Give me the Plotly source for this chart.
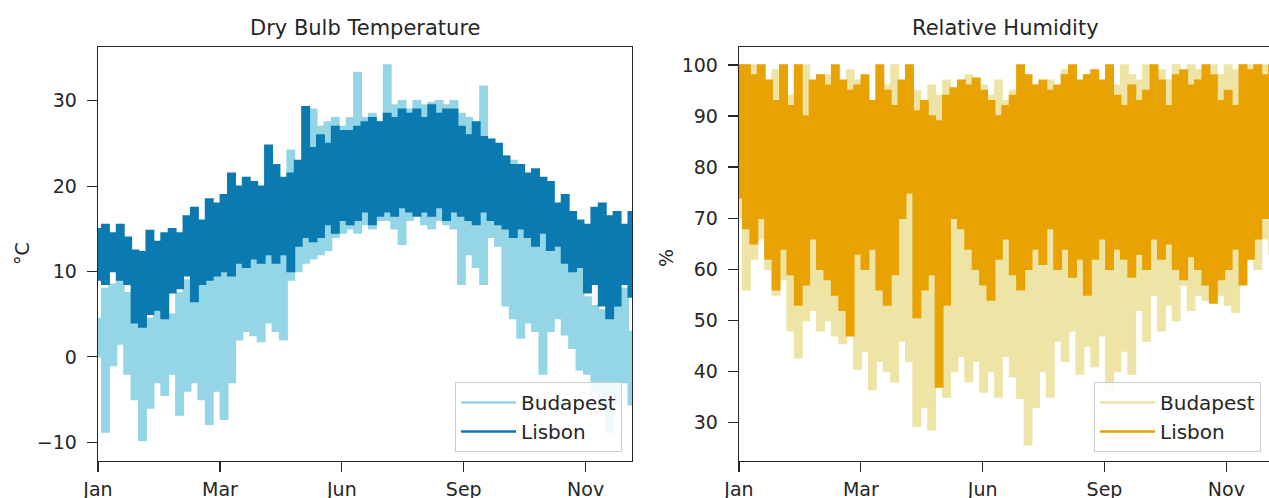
import numpy as np
import plotly.graph_objects as go

# ---- data: 5-day envelopes (high / low) ----
tick_hours = [0, 2000, 4000, 6000, 8000]
tick_labels = ["Jan", "Mar", "Jun", "Sep", "Nov"]

lisbon_temp_hi = [15, 15.5, 14.5, 15.5, 14, 12.5, 12.3, 14.8, 13.5, 14.5,
                  15, 14.5, 16.5, 17.5, 16, 18.5, 18, 19, 21.5, 20,
                  21, 20.5, 20, 24.8, 22.5, 21, 21.5, 23, 29.3, 24.5,
                  26, 25, 27, 26.5, 26.5, 27, 27.5, 28, 27.5, 28.5,
                  28, 29, 28.5, 29, 28, 29.5, 28.5, 29, 29, 27,
                  26, 27.5, 25.8, 25.5, 25, 23.5, 22.5, 22.5, 21.5, 22,
                  21, 20.5, 18, 19, 17, 16, 15.5, 17.5, 18, 16.5,
                  17, 15.5, 17]
lisbon_temp_lo = [9, 8.5, 10, 9, 8.5, 4, 3.5, 5, 5.5, 4.5,
                  7.5, 8, 9.5, 6.5, 8.5, 9, 9.5, 10, 9.5, 11,
                  10.5, 11.5, 11, 12, 11, 12, 10, 13, 14, 13.5,
                  14, 15.5, 14.5, 16, 15.5, 16, 17, 15.5, 16.5, 17,
                  16.5, 17.5, 17, 16.5, 17, 16.5, 17.5, 16, 17, 16.5,
                  16, 15.5, 17, 16, 15.5, 15, 14, 15, 14, 13,
                  14.5, 12.5, 13, 11, 10, 10.5, 7.5, 8.5, 6, 4.5,
                  6, 8.5, 7]
budapest_temp_hi = [4.5, 8, 8.5, 9, 7.5, 5, 4, 4.5, 5.5, 6.5,
                    5, 7.5, 9, 10, 8.5, 11, 9.5, 12, 10, 12.5,
                    11.5, 13, 14, 13, 14, 17, 24.2, 22, 23, 29,
                    27, 27.5, 28, 27, 28, 33.3, 28, 28.5, 27.5, 34.2,
                    29.5, 30, 29, 30, 29.5, 29.8, 30, 29.5, 30, 28.5,
                    28, 26.5, 31.7, 25, 24.5, 23.5, 23, 21, 19, 18,
                    17, 15, 14, 13, 12.5, 11, 7, 6, 5.5, 9.5,
                    7, 8, 3]
budapest_temp_lo = [0, -8.8, -1, 1.5, -2, -5, -9.8, -6, -3, -4.5,
                    -2, -6.8, -4, -3, -5, -7.9, -4, -7.3, -3, 2,
                    3, 2.5, 1.8, 4, 3, 2, 9, 10, 11, 11.5,
                    12, 12.5, 14, 14.5, 15, 14.5, 15.5, 15, 16, 16,
                    15, 13.2, 16, 17, 15.5, 15, 16, 15.5, 15, 8.5,
                    12, 10.5, 8.5, 14, 13, 6, 4.5, 2.2, 4, 3,
                    -2, 3, 4.5, 2.6, 1, -1.5, -2, -4, -6, -8.8,
                    -5.5, -3, -5.6]

budapest_rh_hi = [100, 98, 100, 97, 95, 99, 96, 94, 97, 100,
                  95, 93, 98, 96, 94, 99, 97, 95, 92, 98,
                  96, 100, 94, 97, 95, 92, 96, 94, 97, 93,
                  95, 98, 92, 96, 94, 97, 93, 95, 98, 94,
                  96, 92, 97, 95, 99, 96, 94, 98, 95, 97,
                  99, 96, 100, 98, 97, 100, 98, 99, 97, 100,
                  98, 100, 99, 97, 100, 98, 100, 99, 100, 100,
                  98, 100, 99]
budapest_rh_lo = [70, 56, 62, 66, 60, 55, 58, 48, 42.7, 50,
                  52, 48, 50, 47, 45.5, 49, 40.5, 44, 36.5, 42,
                  40, 38, 46, 42, 29.3, 33, 28.6, 42, 35, 40,
                  43, 38, 42, 36, 40, 35, 43, 39, 34.8, 25.7,
                  33, 40, 35, 46, 42, 48, 39.5, 45, 41, 47,
                  36.2, 40, 44, 39.5, 52, 46, 55, 48, 53, 50,
                  57, 52, 55, 54, 58, 55, 53, 51.6, 59, 62,
                  60, 66, 63]
lisbon_rh_hi = [100, 100, 98, 100, 97, 93, 100, 92, 100, 90,
                97, 98, 96, 100, 97, 95, 96, 98, 93, 100,
                95, 92, 97, 100, 91, 93, 90, 89, 94, 95.5,
                97, 96, 97.4, 95, 93, 90, 92, 94, 100, 98,
                96, 97, 95, 96, 98, 100, 97, 98, 99, 97,
                100, 94, 92, 96, 93, 95, 100, 97, 92, 98,
                99, 96, 97, 100, 98, 93, 95, 92, 100, 99,
                100, 98, 100]
lisbon_rh_lo = [74, 68, 65, 70, 62, 56, 64, 59, 53, 57,
                66, 60, 58, 55, 52, 47, 63, 60, 64, 56,
                53, 59, 70, 75, 50.6, 56, 59, 37, 53, 70,
                68, 64, 60, 57, 54, 62, 66, 59, 56, 60,
                64, 61, 68, 60, 64, 58.5, 62, 55, 62, 66,
                60, 64, 62, 58.5, 63, 60, 66, 62, 65, 60,
                58, 62.5, 60, 57, 53.4, 58, 60, 64, 57, 62,
                66, 70, 73]


def band(hi, lo):
    hours = list(np.linspace(0, 8759, len(hi)))
    return hours + hours[::-1], list(hi) + list(lo)[::-1]


C_BUD_T = "#94d5e6"
C_LIS_T = "#0a7ab1"
C_BUD_H = "#ede4a6"
C_LIS_H = "#e8a202"
INK = "#262626"
FONT = "DejaVu Sans"
W, H = 1269, 498

fig = go.Figure()
for name, hi, lo, col, xa, ya, lg in [
    ("Budapest", budapest_temp_hi, budapest_temp_lo, C_BUD_T, "x", "y", "legend"),
    ("Lisbon", lisbon_temp_hi, lisbon_temp_lo, C_LIS_T, "x", "y", "legend"),
    ("Budapest", budapest_rh_hi, budapest_rh_lo, C_BUD_H, "x2", "y2", "legend2"),
    ("Lisbon", lisbon_rh_hi, lisbon_rh_lo, C_LIS_H, "x2", "y2", "legend2"),
]:
    bx, by = band(hi, lo)
    fig.add_trace(go.Scatter(x=bx, y=by, mode="lines", fill="toself",
                             fillcolor=col,
                             line=dict(color=col, width=1.5, shape="hvh"),
                             xaxis=xa, yaxis=ya, showlegend=False,
                             hoverinfo="skip"))
    # legend entry (line sample)
    fig.add_trace(go.Scatter(x=[None], y=[None], mode="lines", name=name,
                             line=dict(color=col, width=2.5),
                             xaxis=xa, yaxis=ya, legend=lg))

ydom = [(H - 461) / H, (H - 47) / H]
axis_common = dict(showgrid=False, zeroline=False, showline=True,
                   linecolor=INK, linewidth=1.25, ticks="outside",
                   ticklen=10, tickwidth=1.25, tickcolor=INK,
                   tickfont=dict(family=FONT, size=19, color=INK),
                   automargin=False)

legend_common = dict(xanchor="right", y=(H - 452) / H, yanchor="bottom",
                     bgcolor="rgba(255,255,255,0.85)", bordercolor="#cccccc",
                     borderwidth=1, itemwidth=55,
                     font=dict(family=FONT, size=20, color=INK))

fig.update_layout(
    template="none",
    width=W, height=H,
    margin=dict(l=0, r=0, t=0, b=0),
    paper_bgcolor="white", plot_bgcolor="white",
    showlegend=True,
    xaxis=dict(domain=[98 / W, 632 / W], range=[0, 8760],
               tickvals=tick_hours, ticktext=tick_labels, mirror=True,
               anchor="y", ticklabelstandoff=1, **axis_common),
    yaxis=dict(domain=ydom, range=[-12.2, 36.3], tickvals=[-10, 0, 10, 20, 30],
               ticktext=["\u221210", "0", "10", "20", "30"],
               mirror=True, anchor="x", ticklabelstandoff=6, **axis_common),
    xaxis2=dict(domain=[739 / W, 1.0], range=[0, 8700],
                tickvals=tick_hours, ticktext=tick_labels, mirror=True,
                anchor="y2", ticklabelstandoff=1, **axis_common),
    yaxis2=dict(domain=ydom, range=[22.5, 103.5],
                tickvals=[30, 40, 50, 60, 70, 80, 90, 100],
                mirror=False, anchor="x2", ticklabelstandoff=6, **axis_common),
    legend=dict(x=622 / W, **legend_common),
    legend2=dict(x=1261 / W, **legend_common),
    annotations=[
        dict(text="Dry Bulb Temperature", x=365 / W, y=(H - 27.5) / H,
             xref="paper", yref="paper", showarrow=False,
             xanchor="center", yanchor="middle",
             font=dict(family=FONT, size=21, color=INK)),
        dict(text="Relative Humidity", x=1005 / W, y=(H - 27.5) / H,
             xref="paper", yref="paper", showarrow=False,
             xanchor="center", yanchor="middle",
             font=dict(family=FONT, size=21, color=INK)),
        dict(text="\u00b0C", x=22 / W, y=(H - 254) / H, textangle=-90,
             xref="paper", yref="paper", showarrow=False,
             xanchor="center", yanchor="middle",
             font=dict(family=FONT, size=19, color=INK)),
        dict(text="%", x=666 / W, y=(H - 258) / H, textangle=-90,
             xref="paper", yref="paper", showarrow=False,
             xanchor="center", yanchor="middle",
             font=dict(family=FONT, size=19, color=INK)),
    ],
)

fig.write_html("out.html",
               config={"displayModeBar": False, "staticPlot": True},
               post_script="document.body.style.margin='0px';"
                           "document.body.style.overflow='hidden';")
